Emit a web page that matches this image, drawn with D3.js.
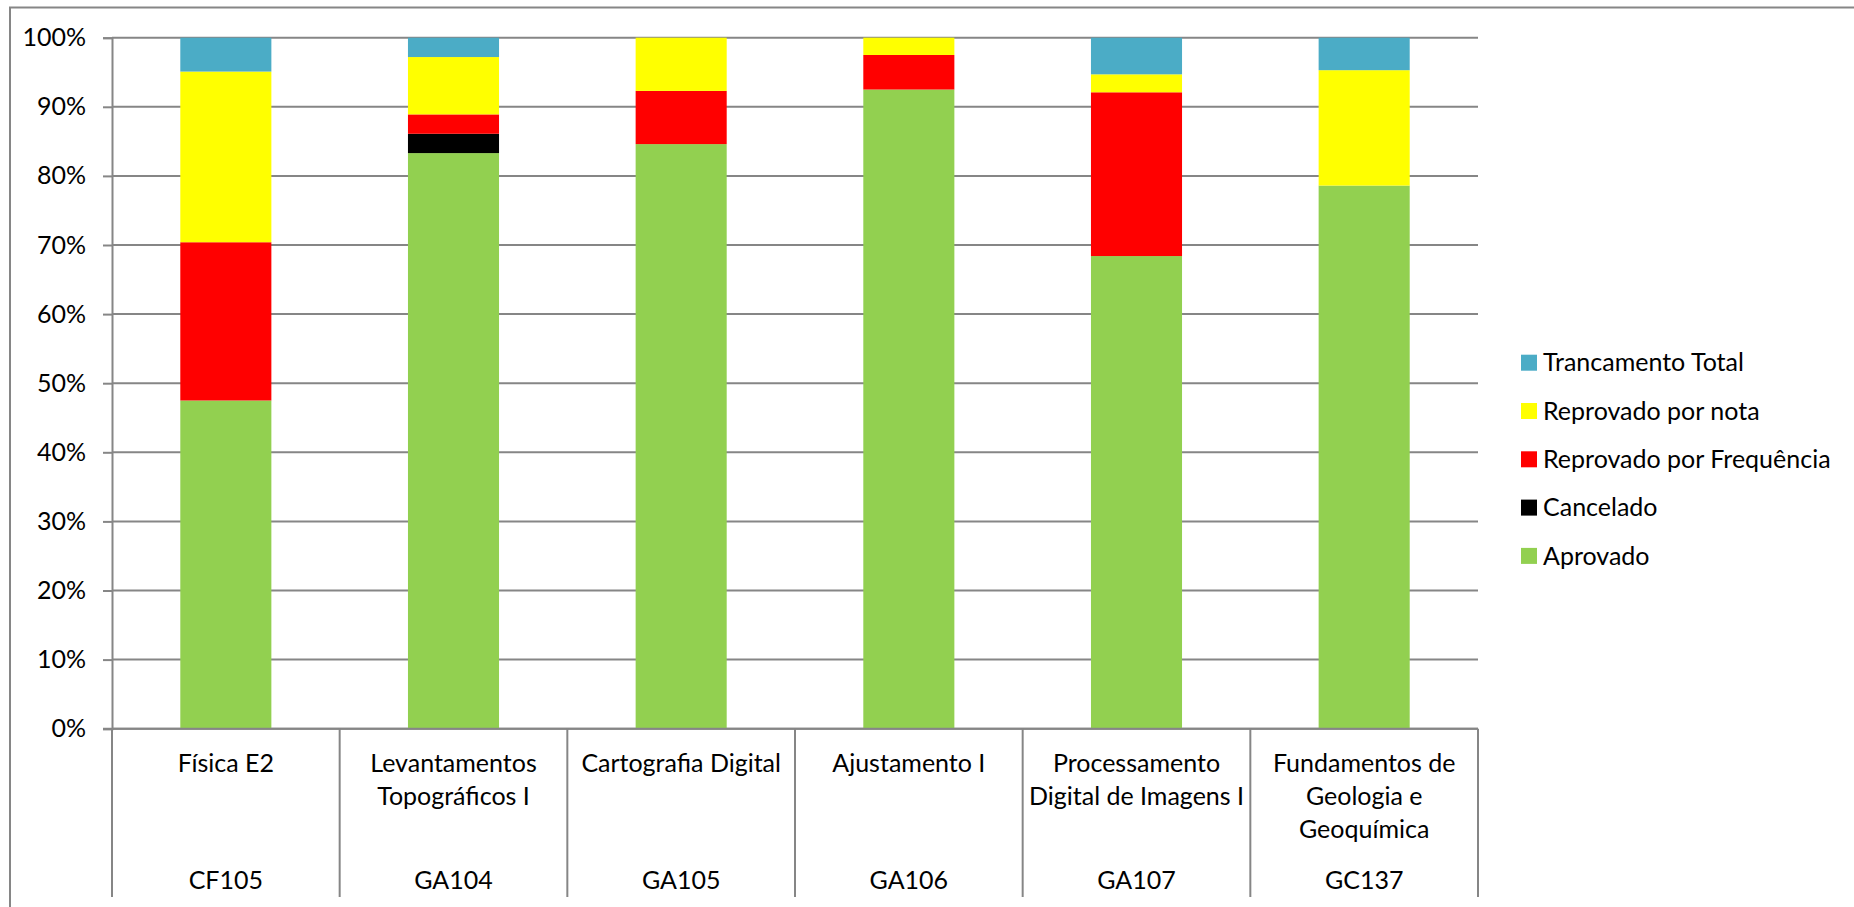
<!DOCTYPE html>
<html>
<head>
<meta charset="utf-8">
<script src="https://cdn.jsdelivr.net/npm/d3@7"></script>
<style>
body { margin: 0; background: #fff; }
svg text { font-family: Lato, "Open Sans", sans-serif; fill: #000; }
.grid line { stroke: #868686; stroke-width: 2px; }
</style>
</head>
<body>
<script>
// disciplinas (nome em linhas + código)
var courseNames = [
  ["Física E2"],
  ["Levantamentos", "Topográficos I"],
  ["Cartografia Digital"],
  ["Ajustamento I"],
  ["Processamento", "Digital de Imagens I"],
  ["Fundamentos de", "Geologia e", "Geoquímica"]
];
var courseCodes = ["CF105", "GA104", "GA105", "GA106", "GA107", "GC137"];

// percentuais por situação
var aprovado      = [47.5, 83.3, 84.6, 92.5, 68.4, 78.6];
var cancelado     = [0, 2.8, 0, 0, 0, 0];
var reprovFreq    = [22.9, 2.8, 7.7, 5.0, 23.7, 0];
var reprovNota    = [24.7, 8.3, 7.7, 2.5, 2.6, 16.7];
var trancamento   = [4.9, 2.8, 0, 0, 5.3, 4.7];

var seriesNames = ["Aprovado", "Cancelado", "Reprovado por Frequência", "Reprovado por nota", "Trancamento Total"];
var seriesValues = [aprovado, cancelado, reprovFreq, reprovNota, trancamento];
var seriesColors = ["#92D050", "#000000", "#FF0000", "#FFFF00", "#4BACC6"];
var yTicks = [0, 10, 20, 30, 40, 50, 60, 70, 80, 90, 100];

var width = 1854, height = 907;
var plotLeft = 112, plotRight = 1478, plotTop = 37.7, plotBottom = 728.7;
var fontSize = 25;

// tabela para o d3.stack
var table = courseCodes.map(function(c, i) {
  var row = {code: c, idx: i};
  seriesNames.forEach(function(s, k) { row[s] = seriesValues[k][i]; });
  return row;
});

var svg = d3.select("body").append("svg")
    .attr("width", width)
    .attr("height", height);

// borda externa do gráfico
svg.append("rect")
    .attr("x", 10).attr("y", 7.5)
    .attr("width", 1900).attr("height", 1000)
    .attr("fill", "none").attr("stroke", "#868686").attr("stroke-width", 2);

var x = d3.scaleBand()
    .domain(courseCodes)
    .range([plotLeft, plotRight])
    .paddingInner(0.6)
    .paddingOuter(0.3);

var y = d3.scaleLinear().domain([0, 100]).range([plotBottom, plotTop]);

// linhas de grade
svg.append("g").attr("class", "grid")
  .selectAll("line").data(yTicks).enter().append("line")
    .attr("x1", plotLeft).attr("x2", plotRight)
    .attr("y1", function(d) { return y(d); })
    .attr("y2", function(d) { return y(d); });

// eixo Y
var yAxis = svg.append("g")
    .attr("transform", "translate(" + plotLeft + ",0)")
    .call(d3.axisLeft(y).tickValues(yTicks).tickSize(9).tickPadding(17)
      .tickFormat(function(d) { return d + "%"; }));
yAxis.select(".domain").attr("stroke", "#868686").attr("stroke-width", 2);
yAxis.selectAll(".tick line").attr("stroke", "#868686").attr("stroke-width", 2);
yAxis.selectAll(".tick text").attr("font-size", fontSize).attr("font-family", "Lato").attr("fill", "#000");

// barras empilhadas
var stacked = d3.stack().keys(seriesNames)(table);
svg.append("g").selectAll("g").data(stacked).enter().append("g")
    .attr("fill", function(d, i) { return seriesColors[i]; })
  .selectAll("rect").data(function(d) { return d; }).enter().append("rect")
    .attr("x", function(d) { return x(d.data.code); })
    .attr("width", x.bandwidth())
    .attr("y", function(d) { return y(d[1]); })
    .attr("height", function(d) { return y(d[0]) - y(d[1]); });

// eixo de categorias em dois níveis
var step = x.step();
var bounds = d3.range(courseCodes.length + 1).map(function(i) { return plotLeft + i * step; });
var catAxis = svg.append("g");
catAxis.append("line")
    .attr("x1", plotLeft - 9).attr("x2", plotRight)
    .attr("y1", plotBottom).attr("y2", plotBottom)
    .attr("stroke", "#868686").attr("stroke-width", 2);
catAxis.selectAll(".sep").data(bounds).enter().append("line")
    .attr("x1", function(d) { return d; }).attr("x2", function(d) { return d; })
    .attr("y1", plotBottom).attr("y2", 897)
    .attr("stroke", "#868686").attr("stroke-width", 2);

var nameText = catAxis.selectAll(".name").data(courseNames).enter().append("text")
    .attr("text-anchor", "middle")
    .attr("font-size", fontSize);
nameText.selectAll("tspan").data(function(d, i) { return d.map(function(t) { return {t: t, i: i}; }); })
  .enter().append("tspan")
    .attr("x", function(d) { return x(courseCodes[d.i]) + x.bandwidth() / 2; })
    .attr("y", function(d, j) { return 763 + j * 33; })
    .attr("dy", "0.35em")
    .text(function(d) { return d.t; });

catAxis.selectAll(".code").data(courseCodes).enter().append("text")
    .attr("x", function(d) { return x(d) + x.bandwidth() / 2; })
    .attr("y", 880).attr("dy", "0.35em")
    .attr("text-anchor", "middle")
    .attr("font-size", fontSize)
    .text(function(d) { return d; });

// legenda (ordem invertida)
var legend = svg.append("g").attr("transform", "translate(1521,0)");
var legItems = legend.selectAll("g").data(seriesNames.slice().reverse()).enter().append("g")
    .attr("transform", function(d, i) { return "translate(0," + (362.7 + i * 48.3) + ")"; });
legItems.append("rect")
    .attr("x", 0).attr("y", -8).attr("width", 16).attr("height", 16)
    .attr("fill", function(d) { return seriesColors[seriesNames.indexOf(d)]; });
legItems.append("text")
    .attr("x", 22).attr("dy", "0.35em")
    .attr("font-size", fontSize)
    .text(function(d) { return d; });
</script>
</body>
</html>
